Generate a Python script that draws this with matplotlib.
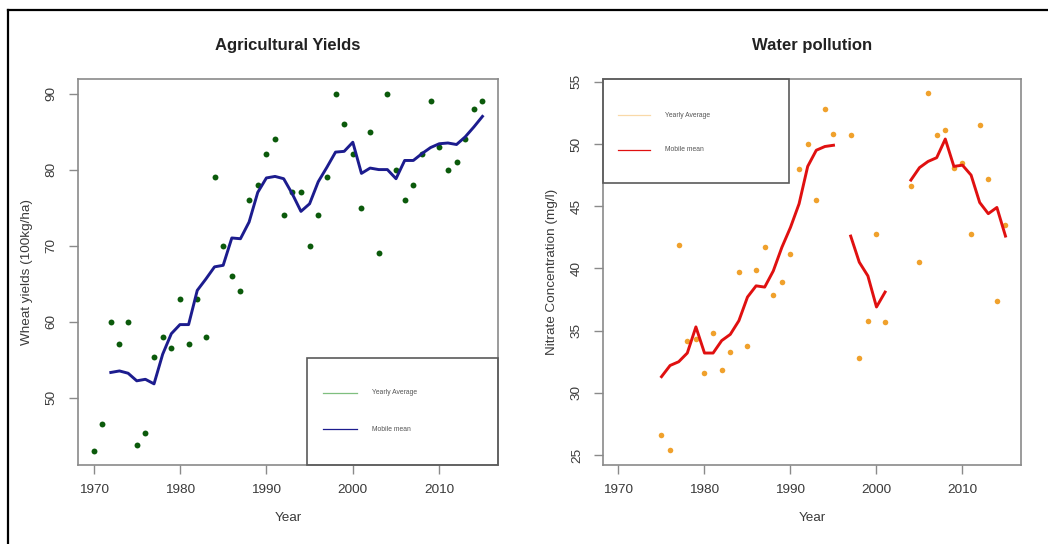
import numpy as np
import matplotlib
matplotlib.use("Agg")
import matplotlib.pyplot as plt
from matplotlib.lines import Line2D
from matplotlib.patches import Rectangle

plt.rcParams["font.family"] = ["Liberation Sans", "DejaVu Sans"]

# ---- data -------------------------------------------------------------
wheat_years = np.arange(1970, 2016)
wheat_yield = [43, 46.5, 60, 57, 60, 43.8, 45.3, 55.3, 58, 56.5,
               63, 57, 63, 58, 79, 70, 66, 64, 76, 78,
               82, 84, 74, 77, 77, 70, 74, 79, 90, 86,
               82, 75, 85, 69, 90, 80, 76, 78, 82, 89,
               83, 80, 81, 84, 88, 89]

wheat_mobile_years = np.arange(1972, 2016)
wheat_mobile = [53.3, 53.5, 53.2, 52.2, 52.4, 51.8, 55.7, 58.4, 59.6, 59.6,
                64.1, 65.6, 67.2, 67.4, 71.0, 70.9, 73.1, 77.0, 78.9, 79.1,
                78.8, 76.8, 74.5, 75.5, 78.4, 80.3, 82.3, 82.4, 83.6, 79.5,
                80.2, 80.0, 80.0, 78.8, 81.2, 81.2, 82.1, 82.9, 83.4, 83.5,
                83.3, 84.3, 85.6, 87.0]

nan = np.nan
nitrate_years = np.arange(1975, 2016)
nitrate = [26.6, 25.4, 41.9, 34.2, 34.3, 31.6, 34.8, 31.8, 33.3, 39.7,
           33.8, 39.9, 41.7, 37.9, 38.9, 41.2, 48.0, 50.0, 45.5, 52.8,
           50.8, nan, 50.7, 32.8, 35.8, 42.8, 35.7, nan, nan, 46.6,
           40.5, 54.1, 50.7, 51.1, 48.1, 48.5, 42.8, 51.5, 47.2, 37.4,
           43.5]
nitrate_mobile = [31.3, 32.2, 32.5, 33.2, 35.3, 33.2, 33.2, 34.2, 34.7, 35.8,
                  37.7, 38.6, 38.5, 39.8, 41.7, 43.3, 45.2, 48.2, 49.5, 49.8,
                  49.9, nan, 42.6, 40.5, 39.4, 36.9, 38.1, nan, nan, 47.1,
                  48.1, 48.6, 48.9, 50.4, 48.2, 48.3, 47.5, 45.3, 44.4, 44.9,
                  42.6]

x_ticks = [1970, 1980, 1990, 2000, 2010]
wheat_ticks = [50, 60, 70, 80, 90]
nitrate_ticks = [25, 30, 35, 40, 45, 50, 55]
legend_labels = ["Yearly Average", "Mobile mean"]

# ---- styling ----------------------------------------------------------
TEXT = "#3a3a3a"
FRAME = "#8a8a8a"
TICK_FS = 9.7


def r_style(ax, yticks):
    for sp in ax.spines.values():
        sp.set_color(FRAME)
        sp.set_linewidth(1.2)
    ax.set_xticks(x_ticks)
    ax.set_yticks(yticks)
    ax.tick_params(axis="both", direction="out", length=6.5, width=1.0,
                   color=FRAME, labelcolor=TEXT, labelsize=TICK_FS)
    ax.tick_params(axis="x", pad=7.5)
    ax.tick_params(axis="y", pad=8)
    for lab in ax.get_yticklabels():
        lab.set_rotation(90)
        lab.set_va("center")
    ax.set_xlabel("Year", color=TEXT, fontsize=TICK_FS, labelpad=11)


def draw_key(ax, box, rows, handle_x, text_x, colors, lws):
    x0, y0, w, h = box
    ax.add_patch(Rectangle((x0, y0), w, h, transform=ax.transAxes,
                           fill=False, edgecolor="#5a5a5a", linewidth=1.2,
                           clip_on=False, zorder=5))
    for ry, lab, c, lw in zip(rows, legend_labels, colors, lws):
        ax.add_line(Line2D(handle_x, [ry, ry], transform=ax.transAxes,
                           color=c, linewidth=lw, clip_on=False, zorder=6))
        ax.text(text_x, ry, lab, transform=ax.transAxes, fontsize=4.9,
                color="#555555", va="center", ha="left", zorder=6)


fig = plt.figure(figsize=(10.48, 5.44), dpi=100)
fig.patch.set_facecolor("white")

ax1 = fig.add_axes([0.0744, 0.1452, 0.4008, 0.7090])
ax2 = fig.add_axes([0.5754, 0.1452, 0.3988, 0.7090])

# ---- wheat yields -----------------------------------------------------
ax1.scatter(wheat_years, wheat_yield, s=18, color="#0b5a0b", zorder=3,
            linewidths=0)
ax1.plot(wheat_mobile_years, wheat_mobile, color="#1c1c8e", linewidth=2.1,
         zorder=4, solid_joinstyle="round")
ax1.set_xlim(1968.2, 2016.8)
ax1.set_ylim(41.12, 91.88)
r_style(ax1, wheat_ticks)
ax1.set_ylabel("Wheat yields (100kg/ha)", color=TEXT, fontsize=TICK_FS,
               labelpad=9)
ax1.set_title("Agricultural Yields", fontsize=12, fontweight="bold",
              color="#222222", pad=21)
draw_key(ax1, (0.545, 0.0, 0.455, 0.277), [0.1875, 0.0933],
         [0.583, 0.664], 0.700, ["#7fbf7f", "#1c1c8e"], [0.9, 0.9])

# ---- water pollution --------------------------------------------------
ax2.scatter(nitrate_years, nitrate, s=16, color="#f0a12c", zorder=3,
            linewidths=0)
ax2.plot(nitrate_years, nitrate_mobile, color="#e01010", linewidth=2.1,
         zorder=4, solid_joinstyle="round")
ax2.set_xlim(1968.2, 2016.8)
ax2.set_ylim(24.2, 55.2)
r_style(ax2, nitrate_ticks)
ax2.set_ylabel("Nitrate Concentration (mg/l)", color=TEXT, fontsize=TICK_FS,
               labelpad=9)
ax2.set_title("Water pollution", fontsize=12, fontweight="bold",
              color="#222222", pad=21)
draw_key(ax2, (0.0, 0.730, 0.445, 0.270), [0.907, 0.817],
         [0.036, 0.112], 0.148, ["#f9d9a8", "#e01010"], [0.9, 0.9])

# outer frame along the top and left edges
fig.add_artist(Line2D([8 / 1048, 1.0], [1 - 10 / 544, 1 - 10 / 544],
                      transform=fig.transFigure, color="black", linewidth=1.6))
fig.add_artist(Line2D([8 / 1048, 8 / 1048], [0.0, 1 - 10 / 544],
                      transform=fig.transFigure, color="black", linewidth=1.6))

fig.savefig("out.png", dpi=100, facecolor="white")
